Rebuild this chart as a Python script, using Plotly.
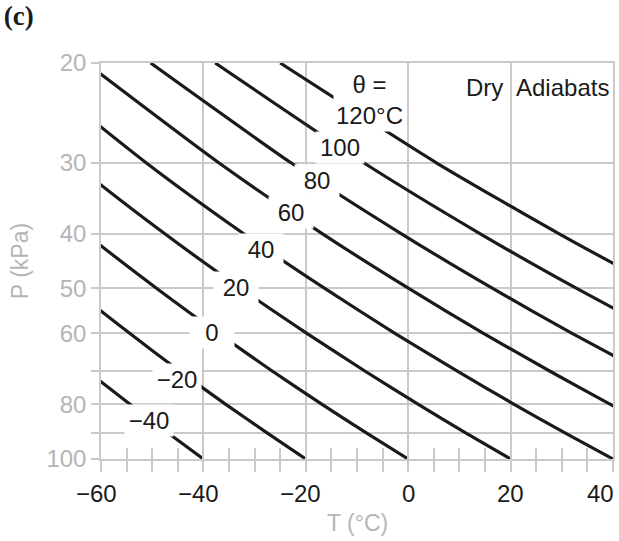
import numpy as np
import plotly.graph_objects as go

# Pressure levels (kPa) at which each dry adiabat is tabulated
pressure_kpa = [100, 90, 80, 70, 60, 50, 40, 30, 20]

# Potential temperature of each adiabat (deg C)
theta_c = [-40, -20, 0, 20, 40, 60, 80, 100, 120]

# Air temperature (deg C) along each adiabat at the pressure levels above
temp_theta_m40 = [-40.0, -46.9, -54.4, -62.6, -71.7, -81.9, -93.7, -107.9, -126.0]
temp_theta_m20 = [-20.0, -27.5, -35.7, -44.6, -54.4, -65.5, -78.4, -93.7, -113.4]
temp_theta_0 = [0.0, -8.1, -16.9, -26.5, -37.1, -49.1, -63.0, -79.6, -100.8]
temp_theta_20 = [20.0, 11.3, 1.9, -8.4, -19.8, -32.7, -47.6, -65.4, -88.1]
temp_theta_40 = [40.0, 30.7, 20.6, 9.6, -2.6, -16.3, -32.2, -51.2, -75.5]
temp_theta_60 = [60.0, 50.1, 39.4, 27.7, 14.7, 0.1, -16.8, -37.0, -62.9]
temp_theta_80 = [80.0, 69.5, 58.2, 45.8, 32.0, 16.5, -1.4, -22.9, -50.3]
temp_theta_100 = [100.0, 88.9, 76.9, 63.8, 49.3, 32.9, 14.0, -8.7, -37.7]
temp_theta_120 = [120.0, 108.3, 95.7, 81.9, 66.6, 49.3, 29.4, 5.5, -25.0]

adiabat_temps = [temp_theta_m40, temp_theta_m20, temp_theta_0, temp_theta_20,
                 temp_theta_40, temp_theta_60, temp_theta_80, temp_theta_100,
                 temp_theta_120]

# Axis ticks
x_tick_values = [-60, -40, -20, 0, 20, 40]
y_tick_values = [20, 30, 40, 50, 60, 70, 80, 90, 100]
y_tick_labels = ["20", "30", "40", "50", "60", "", "80", "", "100"]

# In-line label placement (T in deg C, P in kPa) for each adiabat
label_spots = [(-50.7, 85.6), (-45.1, 72.45), (-38.3, 59.9), (-33.55, 49.9),
               (-28.7, 42.76), (-22.9, 36.65), (-17.8, 32.19), (-13.4, 28.16),
               (-7.6, 23.27)]

FONT = "Liberation Sans, Arial, Helvetica, sans-serif"
GRID = "#cacaca"
GREY_TEXT = "#b5b5b5"
INK = "#1a1a1a"
FS = 24

fig = go.Figure()

for i, (theta, temps) in enumerate(zip(theta_c, adiabat_temps)):
    fig.add_trace(go.Scatter(
        x=temps, y=pressure_kpa, mode="lines",
        line=dict(color=INK, width=3.2, shape="spline", smoothing=0.6),
        hoverinfo="skip", showlegend=False,
        xaxis="x2" if i == len(theta_c) - 1 else "x",
    ))


def minus(v):
    return str(v).replace("-", "\u2212")


annotations = []

# Labels on the adiabats (white boxes interrupt the lines)
for theta, (t_pos, p_pos) in zip(theta_c, label_spots):
    ann = dict(
        x=t_pos, y=np.log10(p_pos), xref="x", yref="y",
        showarrow=False, bgcolor="white", borderpad=3,
        font=dict(family=FONT, size=FS, color=INK),
    )
    if theta == max(theta_c):
        ann.update(text="\u03b8 =<br>%s\u00b0C" % minus(theta), borderpad=2)
    else:
        ann.update(text=minus(theta), width=38 if len(str(theta)) < 3 else 42,
                   height=25)
    annotations.append(ann)

# Caption text in the top grid cells
annotations.append(dict(x=20, y=np.log10(22.07), xref="x", yref="y", text="Dry",
                        xanchor="right", xshift=-6, showarrow=False,
                        font=dict(family=FONT, size=FS, color=INK)))
annotations.append(dict(x=20, y=np.log10(22.07), xref="x", yref="y", text="Adiabats",
                        xanchor="left", xshift=3, showarrow=False,
                        font=dict(family=FONT, size=FS, color=INK)))

# Temperature tick labels
for v in x_tick_values:
    ann = dict(x=v, y=0, xref="x", yref="paper", text=minus(v), showarrow=False,
               yanchor="middle", yshift=-34,
               font=dict(family=FONT, size=FS, color=INK))
    if v == max(x_tick_values):
        ann.update(xanchor="right", xshift=3)
    elif v < 0:
        ann.update(xanchor="center", xshift=-5)
    annotations.append(ann)

# Temperature axis title
annotations.append(dict(x=0.5, y=0, xref="paper", yref="paper", text="T (\u00b0C)",
                        showarrow=False, yanchor="middle", yshift=-64,
                        font=dict(family=FONT, size=23, color=GREY_TEXT)))

fig.update_layout(
    width=619, height=541,
    margin=dict(l=101, r=4, t=63, b=82),
    paper_bgcolor="white", plot_bgcolor="white",
    title=dict(text="<b>(c)</b>", x=0.006, xref="container", xanchor="left",
               y=0.988, yref="container", yanchor="top",
               font=dict(family="Liberation Serif, Times New Roman, serif", size=27, color=INK)),
    xaxis=dict(
        range=[-60, 40], tickvals=x_tick_values, showticklabels=False,
        showgrid=True, gridcolor=GRID, gridwidth=1.5, zeroline=False,
        showline=True, linecolor=GRID, linewidth=1.5, mirror=True,
        ticks="outside", ticklen=11, tickcolor=GRID, tickwidth=1.5,
        minor=dict(dtick=5, tick0=-60, ticks="outside", ticklen=11,
                   tickcolor=GRID, tickwidth=1.5, showgrid=False),
    ),
    xaxis2=dict(
        overlaying="x", matches="x", anchor="y", side="bottom",
        range=[-60, 40], dtick=5, tick0=-60, ticks="inside", ticklen=11,
        tickcolor=GRID, tickwidth=1.5, showticklabels=False,
        showgrid=False, zeroline=False, showline=False,
    ),
    yaxis=dict(
        type="log", range=[np.log10(100), np.log10(20)],
        tickvals=y_tick_values, ticktext=y_tick_labels,
        tickfont=dict(family=FONT, size=FS, color=GREY_TEXT),
        showgrid=True, gridcolor=GRID, gridwidth=1.5, zeroline=False,
        showline=True, linecolor=GRID, linewidth=1.5, mirror=True,
        ticks="outside", ticklen=8, tickcolor=GRID, tickwidth=1.5,
        title=dict(text="P (kPa)", font=dict(family=FONT, size=23, color=GREY_TEXT),
                   standoff=11),
    ),
    annotations=annotations,
)

fig.write_html("out.html")
